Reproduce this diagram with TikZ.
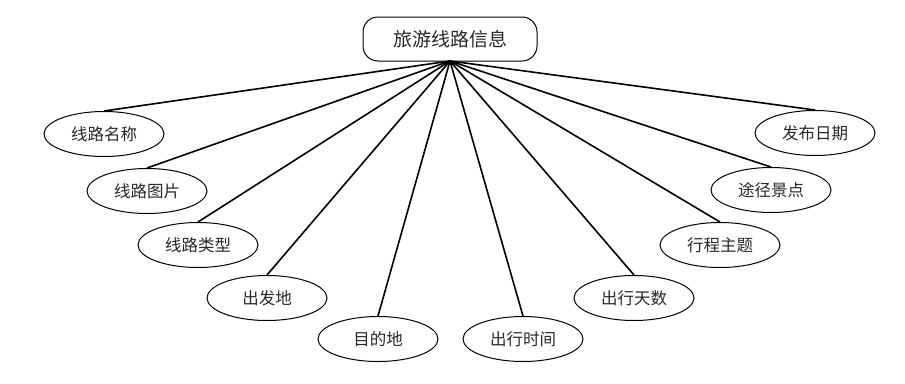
\documentclass[tikz,border=0pt]{standalone}
\usepackage{fontspec}
\newfontfamily\cjk{Noto Sans CJK SC}
\usetikzlibrary{shapes.geometric}
\definecolor{txt}{RGB}{40,40,40}
\tikzset{
  attr/.style={draw=black, line width=1pt, ellipse, minimum width=120pt, minimum height=45pt, inner sep=0pt, font=\cjk\fontsize{16.5}{16.5}\selectfont, text=txt},
  entity/.style={draw=black, line width=1pt, rounded corners=15pt, minimum width=174pt, minimum height=44pt, inner sep=0pt, font=\cjk\fontsize{19}{19}\selectfont, text=txt},
  link/.style={line width=1.6pt}
}
\begin{document}
\begin{tikzpicture}[x=1pt,y=-1pt]
\useasboundingbox (0,0) rectangle (905,383);
\node[entity] (top) at (450,39) {旅游线路信息};
\node[attr] (a1) at (104,134) {线路名称};
\node[attr] (a2) at (147,191) {线路图片};
\node[attr] (a3) at (198,245) {线路类型};
\node[attr] (a4) at (267,298) {出发地};
\node[attr] (a5) at (378,339) {目的地};
\node[attr] (a6) at (523,339) {出行时间};
\node[attr] (a7) at (634,298) {出行天数};
\node[attr] (a8) at (720,245) {行程主题};
\node[attr] (a9) at (771,190) {途径景点};
\node[attr] (a10) at (815,133) {发布日期};
\coordinate (hub) at (450,61);
\foreach \n in {a1,a2,a3,a4,a5,a6,a7,a8,a9,a10}
  \draw[link] (hub) -- (\n.north);
\end{tikzpicture}
\end{document}
